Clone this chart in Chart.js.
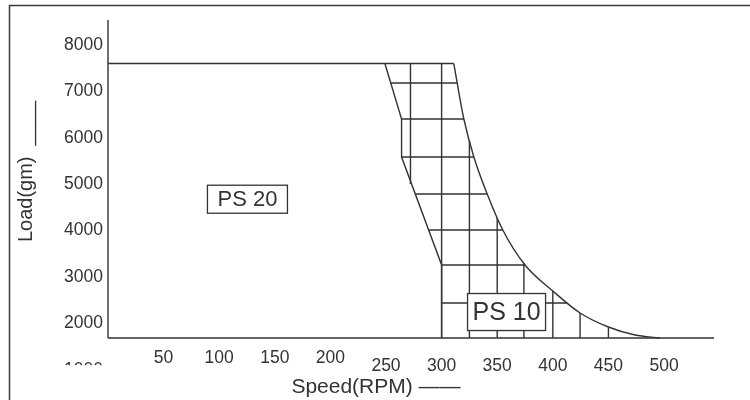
<!DOCTYPE html>
<html>
<head>
<meta charset="utf-8">
<script src="https://cdn.jsdelivr.net/npm/chart.js@4"></script>
<style>
  body { margin: 0; background: #fff; }
  #wrap { width: 750px; height: 400px; }
</style>
</head>
<body>
<div id="wrap"><canvas id="grafico"></canvas></div>
<script>
// Eixos
const xTicks = [50, 100, 150, 200, 250, 300, 350, 400, 450, 500];
const yTicks = [1000, 2000, 3000, 4000, 5000, 6000, 7000, 8000];

// Limites gerais (rpm / gm)
const baseLoad = 1683;   // linha de base
const topLoad = 7600;    // limite superior de carga
const axisTopLoad = 8540;
const baseEndRpm = 545;

// Borda esquerda da area PS 10
const leftRpm  = [249, 264, 264, 300, 300];
const leftLoad = [7600, 6404, 5585, 3257, 1683];

// Borda direita (curva)
const rightRpm  = [311, 314, 320, 329, 341, 355, 375, 400, 424.5, 450, 474, 496];
const rightLoad = [7600, 7181, 6404, 5585, 4787, 4011, 3257, 2696, 2222, 1920, 1747, 1683];

// Hachura - linhas horizontais
const rowLoad = [7181, 6404, 5585, 4787, 4011, 3257, 2437];
const rowFrom = [254, 264, 264, 276, 288, 300, 300];
const rowTo   = [314, 320, 329, 341, 355, 375, 413];

// Hachura - linhas verticais
const colRpm    = [272, 300, 325, 350, 374, 400, 424.5, 450];
const colTop    = [7600, 7600, 5940, 4280, 3300, 2700, 2222, 1918];
const colBottom = [5005, 1683, 1683, 1683, 1683, 1683, 1683, 1683];

// Rotulos das areas
const areaNames = ['PS 20', 'PS 10'];
const areaRpm   = [125.4, 358.4];
const areaLoad  = [4675, 2243];

const ink = '#333';
Chart.defaults.font.family = "'Liberation Sans', Arial, sans-serif";
Chart.defaults.color = ink;

// monta os segmentos separados por null
const rowData = [];
rowLoad.forEach((load, i) => {
    rowData.push({x: rowFrom[i], y: load}, {x: rowTo[i], y: load}, {x: rowTo[i], y: null});
});
const colData = [];
colRpm.forEach((rpm, i) => {
    colData.push({x: rpm, y: colTop[i]}, {x: rpm, y: colBottom[i]}, {x: rpm, y: null});
});

const traco = {borderColor: ink, borderWidth: 1.4, pointRadius: 0, showLine: true, clip: false, fill: false};

const datasets = [
    {...traco, label: 'eixo', data: [{x: 0, y: baseLoad}, {x: 0, y: axisTopLoad}]},
    {...traco, label: 'topo', data: [{x: 0, y: topLoad}, {x: rightRpm[0], y: topLoad}]},
    {...traco, label: 'base', data: [{x: 0, y: baseLoad}, {x: baseEndRpm, y: baseLoad}]},
    {...traco, label: 'esquerda', data: leftRpm.map((r, i) => ({x: r, y: leftLoad[i]}))},
    {...traco, label: 'direita', cubicInterpolationMode: 'monotone',
        data: rightRpm.map((r, i) => ({x: r, y: rightLoad[i]}))},
    {...traco, label: 'linhas', data: rowData},
    {...traco, label: 'colunas', data: colData}
];

const areaFont = [22, 25];
const areaBox = [[80, 28], [78, 37]];

const moldura = {
    id: 'moldura',
    beforeDraw(chart) {
        const c = chart.ctx;
        c.save();
        c.fillStyle = '#fff';
        c.fillRect(0, 0, chart.width, chart.height);
        c.strokeStyle = '#3a3a3a';
        c.lineWidth = 1.5;
        c.strokeRect(9.5, 5.5, chart.width + 20, chart.height + 20);
        c.restore();
    },
    afterDatasetsDraw(chart) {
        const c = chart.ctx;
        const xs = chart.scales.x, ys = chart.scales.y;
        c.save();
        areaNames.forEach((name, i) => {
            const px = xs.getPixelForValue(areaRpm[i]);
            const py = ys.getPixelForValue(areaLoad[i]);
            const w = areaBox[i][0], h = areaBox[i][1];
            c.fillStyle = '#fff';
            c.fillRect(px - w / 2, py - h / 2, w, h);
            c.strokeStyle = ink;
            c.lineWidth = 1.3;
            c.strokeRect(px - w / 2, py - h / 2, w, h);
            c.fillStyle = ink;
            c.font = areaFont[i] + "px 'Liberation Sans', Arial, sans-serif";
            c.textAlign = 'center';
            c.textBaseline = 'middle';
            c.fillText(name, px, py + 1);
        });
        c.restore();
    },
    afterDraw(chart) {
        // o rotulo 1000 aparece cortado no original
        const c = chart.ctx;
        const py = chart.scales.y.getPixelForValue(1000);
        c.save();
        c.fillStyle = '#fff';
        c.fillRect(50, py - 4.5, 57, 16);
        c.restore();
    }
};

new Chart(document.getElementById('grafico'), {
    type: 'scatter',
    data: {datasets: datasets},
    options: {
        responsive: true,
        maintainAspectRatio: false,
        animation: false,
        events: [],
        layout: {padding: {left: 0, top: 5, right: 106, bottom: 0}},
        plugins: {legend: {display: false}, tooltip: {enabled: false}},
        scales: {
            x: {
                type: 'linear', min: 0, max: 482,
                afterBuildTicks: s => { s.ticks = xTicks.map(v => ({value: v})); },
                afterFit: s => { s.height = 62; },
                grid: {display: false, drawTicks: false},
                border: {display: false},
                ticks: {
                    autoSkip: false, maxRotation: 0, padding: 10,
                    callback: v => String(v),
                    font: ctx => ({size: 17.5, lineHeight: (ctx.tick && ctx.tick.value >= 250) ? 2.05 : 1.2})
                },
                title: {display: true, text: 'Speed(RPM) \u2014\u2014', font: {size: 21}, padding: 0}
            },
            y: {
                type: 'linear', min: 1683, max: 8862,
                afterBuildTicks: s => { s.ticks = yTicks.map(v => ({value: v})); },
                afterFit: s => { s.width = 108; s.paddingTop = 0; s.paddingBottom = 0; },
                grid: {display: false, drawTicks: false},
                border: {display: false},
                ticks: {autoSkip: false, padding: 5, callback: v => String(v), font: {size: 17.5}},
                title: {display: true, text: 'Load(gm)  ____', font: {size: 20}, padding: {top: 14, bottom: 0}}
            }
        }
    },
    plugins: [moldura]
});
</script>
</body>
</html>
